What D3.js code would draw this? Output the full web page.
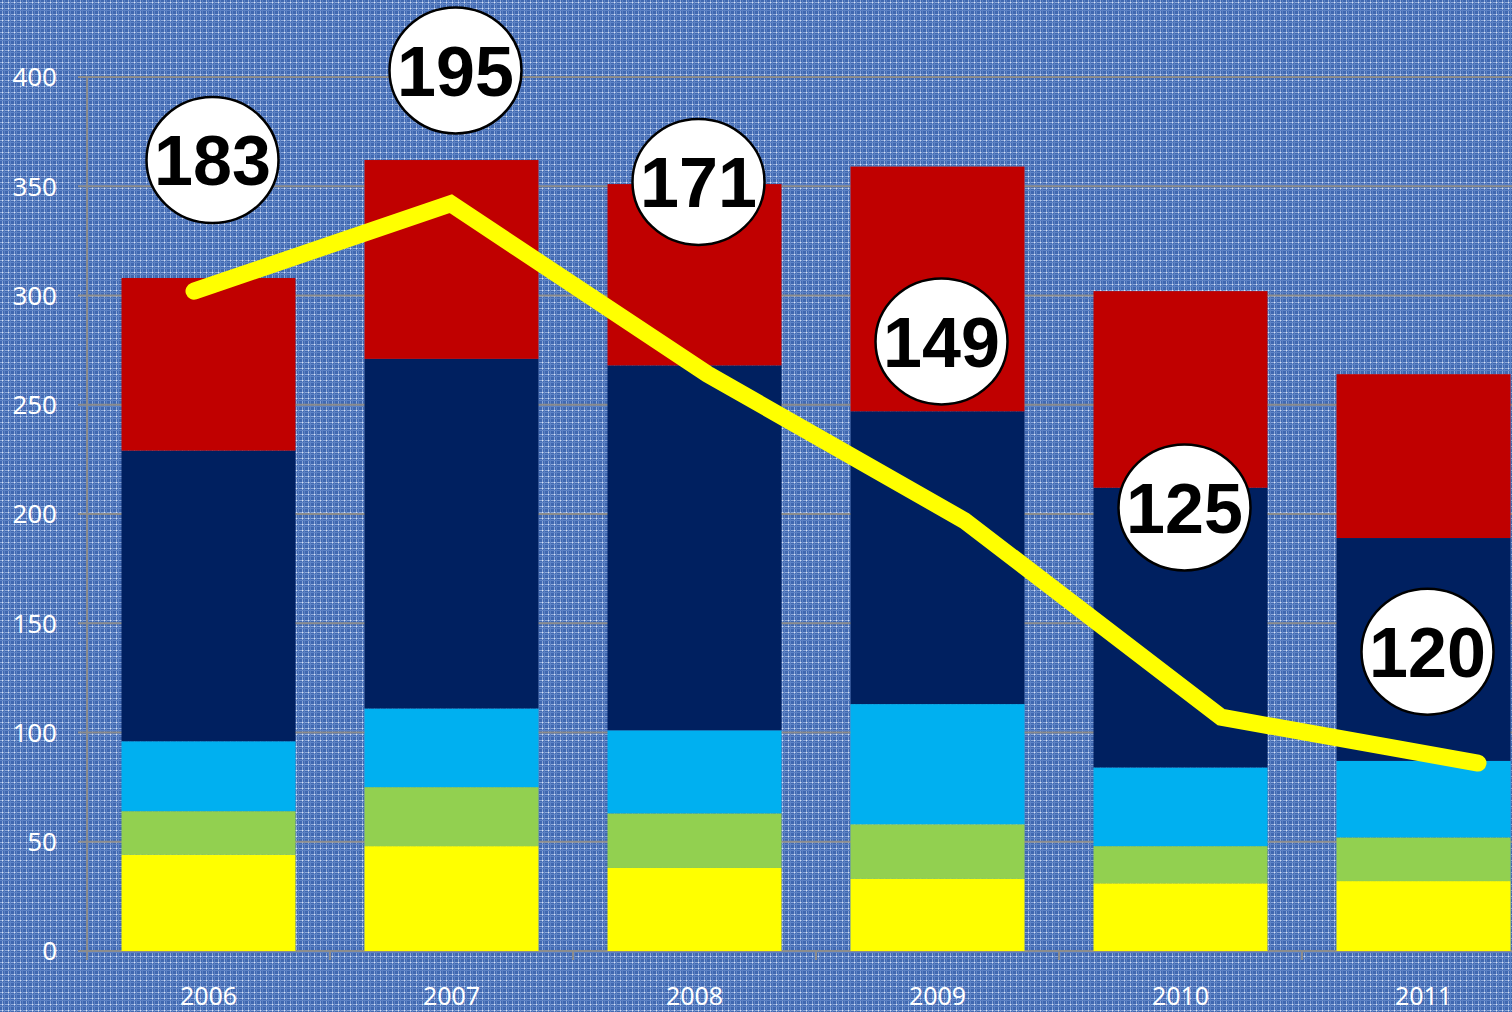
<!DOCTYPE html>
<html>
<head>
<meta charset="utf-8">
<script src="https://cdn.jsdelivr.net/npm/d3@7"></script>
<style>
  body { margin: 0; background: #4a6fb3; }
</style>
</head>
<body>
<script>
// data
var years = ["2006", "2007", "2008", "2009", "2010", "2011"];
var keys = ["yellow", "green", "lightblue", "navy", "red"];
var yellow    = [44, 48, 38, 33, 31, 32];
var green     = [20, 27, 25, 25, 17, 20];
var lightblue = [32, 36, 38, 55, 36, 35];
var navy      = [133, 160, 167, 134, 128, 102];
var red       = [79, 91, 83, 112, 90, 75];
var lineValues = [302, 342, 264, 197, 107, 86];
var labels = [183, 195, 171, 149, 125, 120];
var labelAt = [362, 403, 352, 279, 203, 137];
var yTicks = [0, 50, 100, 150, 200, 250, 300, 350, 400];

var colors = {
  yellow: "#ffff00",
  green: "#92d050",
  lightblue: "#00b0f0",
  navy: "#002060",
  red: "#c00000"
};

var width = 1512, height = 1012;

var svg = d3.select("body")
  .append("svg")
  .attr("width", width)
  .attr("height", height)
  .style("display", "block");

// textured blue background
var defs = svg.append("defs");
var pat = defs.append("pattern")
  .attr("id", "cloth")
  .attr("width", 6)
  .attr("height", 6)
  .attr("patternUnits", "userSpaceOnUse");
pat.append("rect").attr("width", 6).attr("height", 6).attr("fill", "#4068b0");
pat.append("rect").attr("x", 2).attr("width", 1).attr("height", 6).attr("fill", "#8aa6d8");
pat.append("rect").attr("y", 2).attr("width", 6).attr("height", 1).attr("fill", "#8aa6d8");
pat.append("rect").attr("x", 4).attr("width", 1).attr("height", 6).attr("fill", "#5d82c4");
pat.append("rect").attr("y", 4).attr("width", 6).attr("height", 1).attr("fill", "#5d82c4");
pat.append("rect").attr("x", 2).attr("y", 2).attr("width", 1).attr("height", 1).attr("fill", "#d8e2f4");

svg.append("rect")
  .attr("width", width)
  .attr("height", height)
  .attr("fill", "url(#cloth)");

// scales
var x = d3.scaleBand()
  .domain(years)
  .range([87, 1545])
  .paddingInner(0.284)
  .paddingOuter(0.142);

var y = d3.scaleLinear()
  .domain([0, 400])
  .range([951, 77]);

// line sits on its own category spacing
var xLine = d3.scalePoint()
  .domain(years)
  .range([194, 1478]);

// gridlines
svg.append("g")
  .selectAll("line")
  .data(yTicks)
  .join("line")
  .attr("x1", 78)
  .attr("x2", width)
  .attr("y1", d => y(d))
  .attr("y2", d => y(d))
  .attr("stroke", "#8c8c8c")
  .attr("stroke-width", 2);

// y axis line
svg.append("line")
  .attr("x1", 87).attr("x2", 87)
  .attr("y1", y(400)).attr("y2", 960)
  .attr("stroke", "#8c8c8c")
  .attr("stroke-width", 2);

// x tick marks at category boundaries
svg.append("g")
  .selectAll("line")
  .data(years)
  .join("line")
  .attr("x1", d => x(d) - x.step() * x.paddingOuter())
  .attr("x2", d => x(d) - x.step() * x.paddingOuter())
  .attr("y1", y(0))
  .attr("y2", 960)
  .attr("stroke", "#8c8c8c")
  .attr("stroke-width", 2);

// y tick labels
svg.append("g")
  .selectAll("text")
  .data(yTicks)
  .join("text")
  .attr("x", 57)
  .attr("y", d => y(d))
  .attr("dy", "0.36em")
  .attr("text-anchor", "end")
  .attr("fill", "white")
  .style("font-family", "'Noto Sans', sans-serif")
  .style("font-size", "26px")
  .text(d => d);

// x labels
svg.append("g")
  .selectAll("text")
  .data(years)
  .join("text")
  .attr("x", d => x(d) + x.bandwidth() / 2)
  .attr("y", 1005)
  .attr("text-anchor", "middle")
  .attr("fill", "white")
  .style("font-family", "'Noto Sans', sans-serif")
  .style("font-size", "25px")
  .text(d => d);

// stacked bars
var table = years.map(function(yr, i) {
  return {
    year: yr,
    yellow: yellow[i],
    green: green[i],
    lightblue: lightblue[i],
    navy: navy[i],
    red: red[i]
  };
});

var stack = d3.stack().keys(keys)(table);

svg.append("g")
  .selectAll("g")
  .data(stack)
  .join("g")
  .attr("fill", d => colors[d.key])
  .selectAll("rect")
  .data(d => d)
  .join("rect")
  .attr("x", d => x(d.data.year))
  .attr("width", x.bandwidth())
  .attr("y", d => y(d[1]))
  .attr("height", d => y(d[0]) - y(d[1]));

// yellow trend line
var line = d3.line()
  .x((d, i) => xLine(years[i]))
  .y(d => y(d));

svg.append("path")
  .datum(lineValues)
  .attr("d", line)
  .attr("fill", "none")
  .attr("stroke", "#ffff00")
  .attr("stroke-width", 17)
  .attr("stroke-linecap", "round")
  .attr("stroke-linejoin", "miter");

// number bubbles
var bubbles = svg.append("g")
  .selectAll("g")
  .data(labels)
  .join("g")
  .attr("transform", (d, i) => "translate(" + (x(years[i]) + x.bandwidth() / 2 + 4) + "," + y(labelAt[i]) + ")");

bubbles.append("ellipse")
  .attr("rx", 66)
  .attr("ry", 63)
  .attr("fill", "white")
  .attr("stroke", "black")
  .attr("stroke-width", 2.5);

bubbles.append("text")
  .attr("text-anchor", "middle")
  .attr("dy", "0.36em")
  .attr("fill", "black")
  .style("font-family", "'Liberation Sans', Arial, sans-serif")
  .style("font-weight", "bold")
  .style("font-size", "70px")
  .text(d => d);
</script>
</body>
</html>
